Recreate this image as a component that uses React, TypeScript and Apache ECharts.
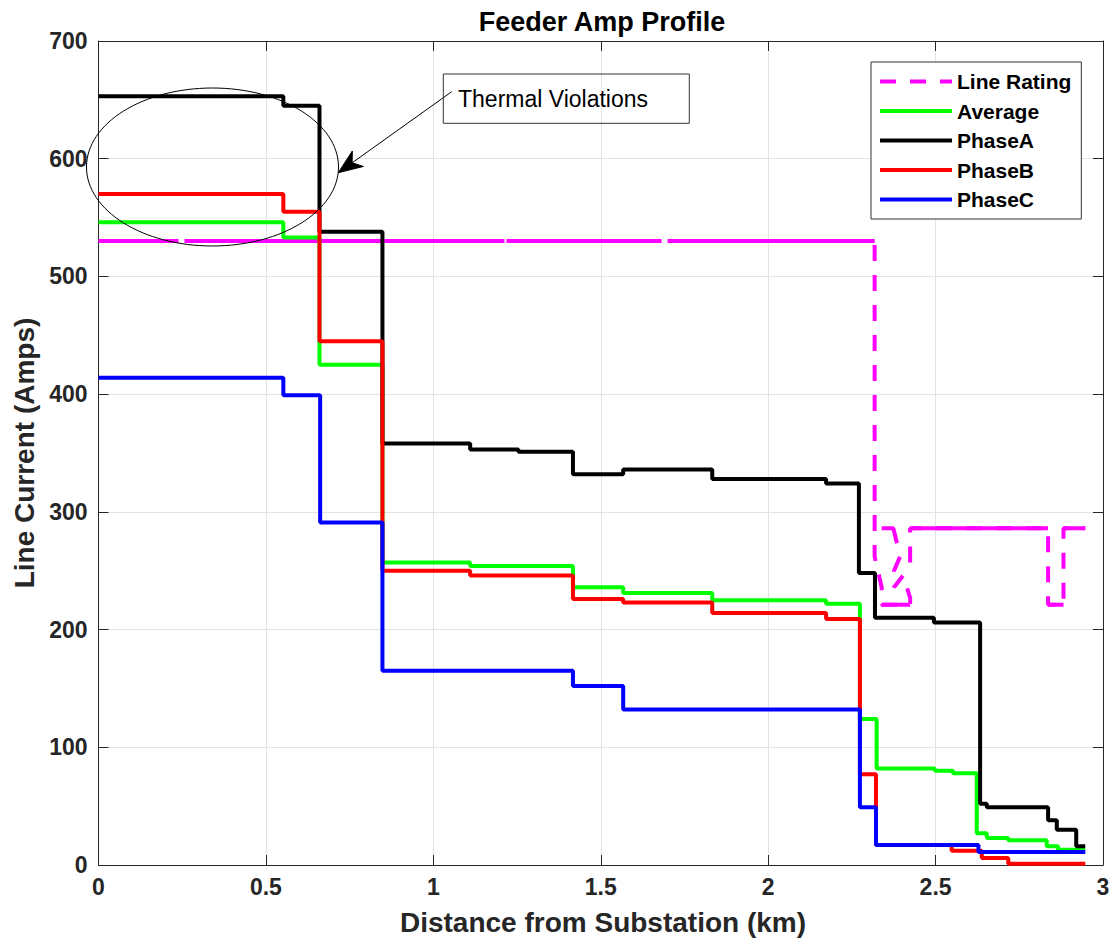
import React, { useEffect, useRef } from "react";
import * as echarts from "echarts";

// ---- Data ----
const distA = [0, 0.552, 0.66, 0.848, 1.11, 1.254, 1.417, 1.567, 1.833, 2.173, 2.271, 2.319, 2.495, 2.633, 2.653, 2.836, 2.862, 2.92, 2.947];
const phaseA = [653, 645, 538, 358, 353, 351, 332, 336, 328, 324, 248, 210, 206, 52, 49, 38, 30, 16, 16];

const distB = [0, 0.552, 0.66, 0.848, 1.11, 1.417, 1.567, 1.833, 2.173, 2.274, 2.322, 2.548, 2.638, 2.717, 2.947];
const phaseB = [570, 555, 445, 250, 246, 226, 223, 214, 209, 77, 17, 12, 6, 1, 1];

const distAvg = [0, 0.552, 0.66, 0.848, 1.11, 1.417, 1.567, 1.833, 2.173, 2.274, 2.324, 2.498, 2.552, 2.623, 2.653, 2.717, 2.832, 2.866, 2.947];
const average = [546, 533, 425, 257, 254, 236, 231, 225, 222, 124, 82, 80, 78, 27, 23, 21, 16, 13, 13];

const distC = [0, 0.552, 0.662, 0.848, 1.417, 1.567, 2.274, 2.322, 2.628, 2.947];
const phaseC = [414, 399, 291, 165, 152, 132, 49, 17, 11, 11];

const ratingX = [0, 2.318, 2.318, 2.339, 2.339, 2.424, 2.424, 2.403, 2.376, 2.376, 2.394, 2.374, 2.339, 2.4, 2.424, 2.424, 2.836, 2.836, 2.882, 2.882, 2.947];
const ratingY: (number | null)[] = [530, 530, 262, 236, 221, 221, 227, 246, 236, 250, 262, 286, 286, null, 257, 286, 286, 221, 221, 286, 286];

const xTicks = { min: 0, max: 3, interval: 0.5 };
const yTicks = { min: 0, max: 700, interval: 100 };

const seriesNames = ["Line Rating", "Average", "PhaseA", "PhaseB", "PhaseC"];

const FONT = '"Liberation Sans", Arial, Helvetica, sans-serif';
const AX = "#262626";

function pairs(xs: number[], ys: (number | null)[]) {
  return xs.map((x, i) => [x, ys[i]]);
}

export default function App() {
  const ref = useRef<HTMLDivElement>(null);

  useEffect(() => {
    if (!ref.current) return;
    const chart = echarts.init(ref.current, undefined, { renderer: "svg" });

    // horizontal pieces of line rating (drawn solid, like the reference)
    const flat: any[] = [];
    const horiz: any[] = [];
    for (let i = 0; i < ratingX.length - 1; i++) {
      const y0 = ratingY[i];
      const y1 = ratingY[i + 1];
      if (y0 != null && y1 != null && y0 === y1) {
        if (i === 0) {
          flat.push([ratingX[i], y0], [ratingX[i + 1], y1]);
        } else {
          if (horiz.length) horiz.push([ratingX[i], null]);
          horiz.push([ratingX[i], y0], [ratingX[i + 1], y1]);
        }
      }
    }

    // arrow geometry (annotation)
    const tail = [451.7, 91.7];
    const tip = [338.3, 172.7];
    const dx = tail[0] - tip[0];
    const dy = tail[1] - tip[1];
    const len = Math.hypot(dx, dy);
    const ux = dx / len, uy = dy / len;
    const nx = -uy, ny = ux;
    const L = 24, W = 9.5, N = 17;
    const head = [
      [tip[0], tip[1]],
      [tip[0] + L * ux + W * nx, tip[1] + L * uy + W * ny],
      [tip[0] + N * ux, tip[1] + N * uy],
      [tip[0] + L * ux - W * nx, tip[1] + L * uy - W * ny],
    ];

    const lw = 4;
    const option: any = {
      animation: false,
      backgroundColor: "#ffffff",
      textStyle: { fontFamily: FONT },
      grid: { left: 98.5, top: 41, right: 16, bottom: 80, containLabel: false },
      legend: {
        data: seriesNames,
        orient: "vertical",
        left: 871,
        top: 62,
        padding: [9, 10, 9, 7],
        itemGap: 8.5,
        itemWidth: 72,
        itemHeight: 20,
        backgroundColor: "#ffffff",
        borderColor: "#333333",
        borderWidth: 1,
        borderRadius: 0,
        itemStyle: { opacity: 0, borderWidth: 0 },
        lineStyle: { width: 4 },
        textStyle: { fontFamily: FONT, fontSize: 21, fontWeight: "bold", color: "#000", lineHeight: 20 },
      },
      xAxis: [
        {
          type: "value",
          ...xTicks,
          position: "bottom",
          axisLine: { show: true, lineStyle: { color: AX, width: 1 } },
          axisTick: { show: true, inside: true, length: 10, lineStyle: { color: AX } },
          axisLabel: { fontFamily: FONT, fontSize: 23, fontWeight: "bold", color: AX, margin: 10 },
          splitLine: { show: true, lineStyle: { color: "#e3e3e3", width: 1 } },
        },
        {
          type: "value",
          ...xTicks,
          position: "top",
          axisLine: { show: true, onZero: false, lineStyle: { color: AX, width: 1 } },
          axisTick: { show: true, inside: true, length: 10, lineStyle: { color: AX } },
          axisLabel: { show: false },
          splitLine: { show: false },
        },
      ],
      yAxis: [
        {
          type: "value",
          ...yTicks,
          position: "left",
          axisLine: { show: true, lineStyle: { color: AX, width: 1 } },
          axisTick: { show: true, inside: true, length: 10, lineStyle: { color: AX } },
          axisLabel: { fontFamily: FONT, fontSize: 23, fontWeight: "bold", color: AX, margin: 11 },
          splitLine: { show: true, lineStyle: { color: "#e3e3e3", width: 1 } },
        },
        {
          type: "value",
          ...yTicks,
          position: "right",
          axisLine: { show: true, onZero: false, lineStyle: { color: AX, width: 1 } },
          axisTick: { show: true, inside: true, length: 10, lineStyle: { color: AX } },
          axisLabel: { show: false },
          splitLine: { show: false },
        },
      ],
      series: [
        {
          name: "Line Rating",
          type: "line",
          data: pairs(ratingX, ratingY),
          symbol: "none",
          connectNulls: false,
          color: "#ff00ff",
          lineStyle: { color: "#ff00ff", width: lw, type: [16, 14] },
          z: 2,
        },
        {
          name: "Line Rating",
          type: "line",
          data: flat,
          symbol: "none",
          color: "#ff00ff",
          lineStyle: { color: "#ff00ff", width: lw, type: [155, 6], dashOffset: 75 },
          z: 2,
        },
        {
          name: "Line Rating",
          type: "line",
          data: horiz,
          symbol: "none",
          connectNulls: false,
          color: "#ff00ff",
          lineStyle: { color: "#ff00ff", width: lw, type: "solid" },
          z: 2,
        },
        {
          name: "Average",
          type: "line",
          step: "end",
          data: pairs(distAvg, average),
          symbol: "none",
          color: "#00ff00",
          lineStyle: { color: "#00ff00", width: lw },
          z: 3,
        },
        {
          name: "PhaseA",
          type: "line",
          step: "end",
          data: pairs(distA, phaseA),
          symbol: "none",
          color: "#000000",
          lineStyle: { color: "#000000", width: lw },
          z: 4,
        },
        {
          name: "PhaseB",
          type: "line",
          step: "end",
          data: pairs(distB, phaseB),
          symbol: "none",
          color: "#ff0000",
          lineStyle: { color: "#ff0000", width: lw },
          z: 5,
        },
        {
          name: "PhaseC",
          type: "line",
          step: "end",
          data: pairs(distC, phaseC),
          symbol: "none",
          color: "#0000ff",
          lineStyle: { color: "#0000ff", width: lw },
          z: 6,
        },
      ],
      graphic: [
        {
          type: "text",
          x: 602,
          y: 22,
          style: {
            text: "Feeder Amp Profile",
            font: `bold 27px ${FONT}`,
            fill: "#000",
            align: "center",
            verticalAlign: "middle",
          },
          z: 10,
        },
        {
          type: "text",
          x: 603,
          y: 922,
          style: {
            text: "Distance from Substation (km)",
            font: `bold 28px ${FONT}`,
            fill: AX,
            align: "center",
            verticalAlign: "middle",
          },
          z: 10,
        },
        {
          type: "text",
          x: 24,
          y: 453,
          rotation: Math.PI / 2,
          style: {
            text: "Line Current (Amps)",
            font: `bold 28px ${FONT}`,
            fill: AX,
            align: "center",
            verticalAlign: "middle",
          },
          z: 10,
        },
        {
          type: "ellipse",
          shape: { cx: 212.5, cy: 167, rx: 126, ry: 79 },
          style: { fill: "none", stroke: "#000", lineWidth: 1 },
          z: 20,
        },
        {
          type: "line",
          shape: { x1: tail[0], y1: tail[1], x2: tip[0] + N * ux, y2: tip[1] + N * uy },
          style: { stroke: "#000", lineWidth: 1 },
          z: 20,
        },
        {
          type: "polygon",
          shape: { points: head },
          style: { fill: "#000", stroke: "#000", lineWidth: 1 },
          z: 20,
        },
        {
          type: "rect",
          shape: { x: 443.3, y: 74, width: 246, height: 49.3 },
          style: { fill: "none", stroke: "#333", lineWidth: 1 },
          z: 20,
        },
        {
          type: "text",
          x: 458,
          y: 99,
          style: {
            text: "Thermal Violations",
            font: `23px ${FONT}`,
            fill: "#000",
            align: "left",
            verticalAlign: "middle",
          },
          z: 20,
        },
      ],
    };

    chart.setOption(option);
    return () => chart.dispose();
  }, []);

  return (
    <div
      ref={ref}
      style={{ position: "absolute", left: 0, top: 0, width: 1119, height: 945, background: "#fff" }}
    />
  );
}
